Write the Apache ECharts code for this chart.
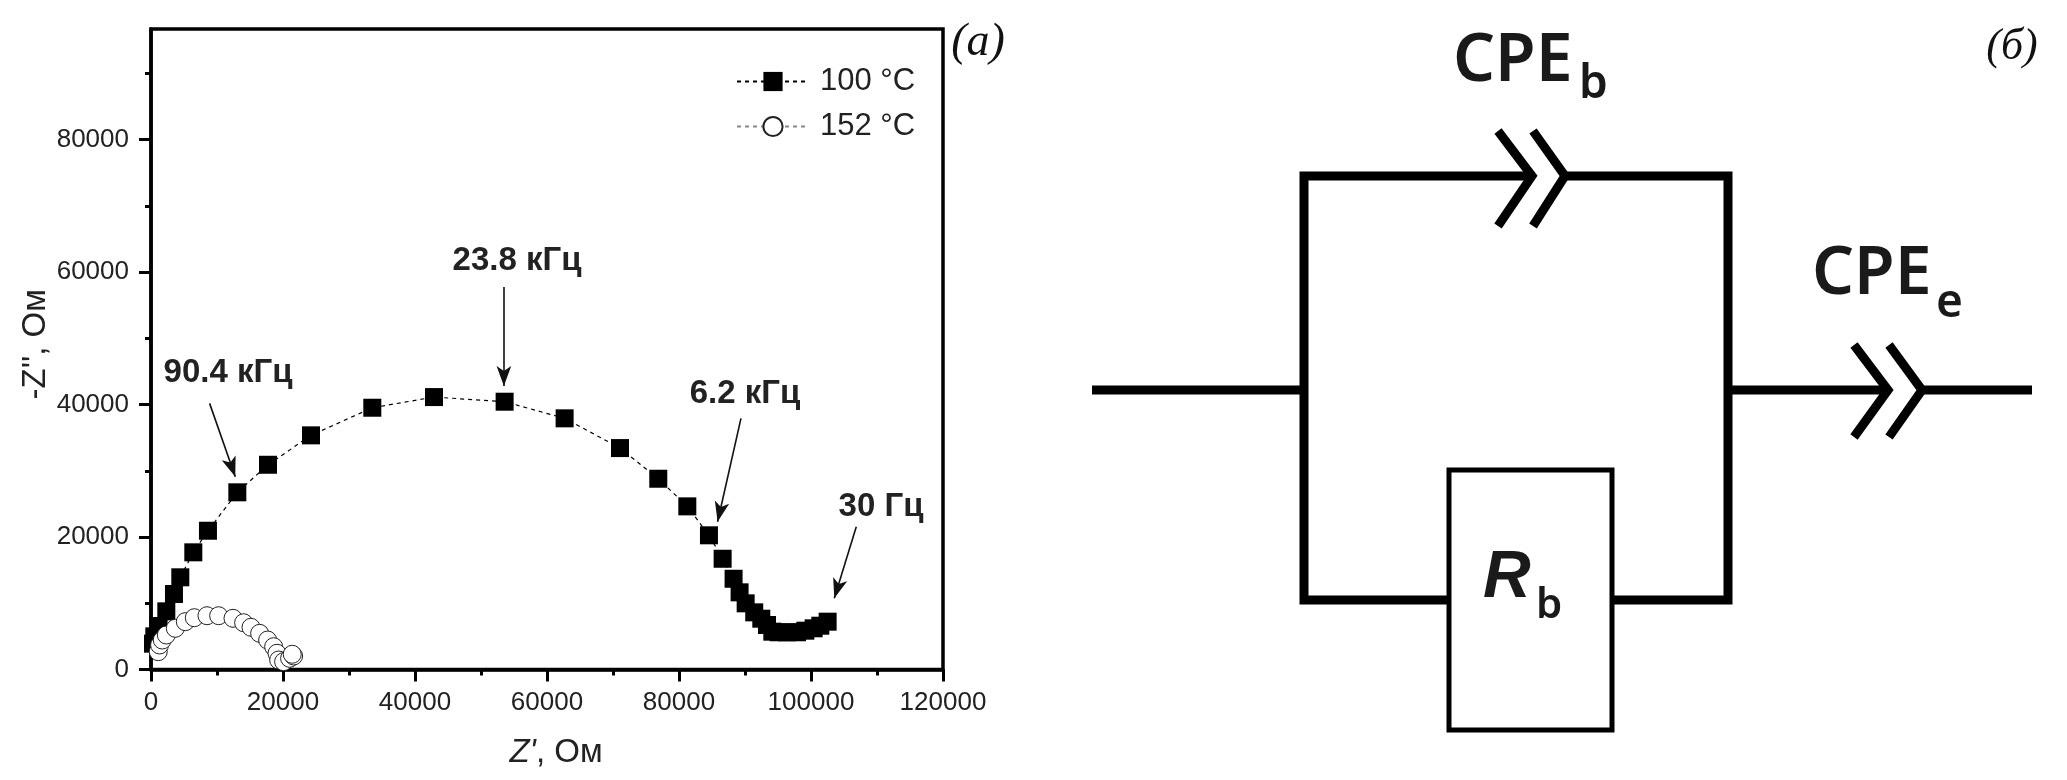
<!DOCTYPE html>
<html><head><meta charset="utf-8">
<style>html,body{margin:0;padding:0;background:#fff}#c{width:2067px;height:780px}</style>
<script src="https://cdn.jsdelivr.net/npm/echarts@6/dist/echarts.min.js"></script>
</head><body><div id="c"></div>
<script>
const s100x=[300,500,1150,2320,3480,4440,6410,8630,13080,17730,24240,33530,42880,53580,62670,71060,76860,81260,84540,86610,88270,89180,90100,91400,92470,93330,94140,95100,96360,97880,99140,100400,101410,102520];
const s100y=[3900,5000,6570,8780,11400,13920,17690,20950,26750,30910,35350,39520,41130,40430,37920,33430,28800,24630,20260,16720,13700,11650,9990,8630,7670,6720,5710,5620,5620,5620,5860,6220,6610,7220];
const s152x=[1100,1300,1710,2320,3680,5200,6560,8480,10250,12420,14030,15150,16460,17670,18580,19090,19340,20090,21000,21610,21400];
const s152y=[2690,3700,4450,5210,6220,7220,7820,8120,8120,7730,7060,6370,5460,4450,3440,2450,1430,1180,1690,2040,2300];
const xTicks=[0,20000,40000,60000,80000,100000,120000];
const yTicks=[0,20000,40000,60000,80000];
const seriesNames=['100 °C','152 °C'];
const arrowNotes=[
 {text:'90.4 кГц',from:[8880,40180],to:[12770,29100]},
 {text:'23.8 кГц',from:[53470,57740],to:[53470,42790]},
 {text:'6.2 кГц',from:[89390,37920],to:[85850,22310]},
 {text:'30 Гц',from:[106860,21560],to:[103530,10750]}
];
const zip=(a,b)=>a.map((v,i)=>[v,b[i]]);
const SANS='"Liberation Sans",Arial,sans-serif', SERIF='"Liberation Serif",serif', CPE='"Noto Sans",sans-serif';
const wire=(pts,w)=>({type:'polyline',silent:true,shape:{points:pts},style:{fill:null,stroke:'#000',lineWidth:w||8,lineJoin:'miter',lineCap:'butt'}});
const txt=(x,y,text,font,extra)=>({type:'text',silent:true,x,y,style:Object.assign({text,font,fill:'#111',textAlign:'center',textVerticalAlign:'middle'},extra||{})});
const left=(x,y,text,font)=>txt(x,y,text,font,{textAlign:'left',fill:'#1a1a1a'});
const noteLabelPos=[[228,373],[517,261],[745,394],[881,507]];
const notes=arrowNotes.map((n,i)=>txt(noteLabelPos[i][0],noteLabelPos[i][1],n.text,'bold 33px '+SANS,{fill:'#222'}));
const option={
 animation:false,backgroundColor:'#fff',
 grid:{left:151,top:29,width:792,height:640.5,outerBoundsMode:'none',containLabel:false,show:true,borderColor:'#000',borderWidth:3.5,backgroundColor:'transparent'},
 legend:{show:true,orient:'vertical',left:731,top:61,itemWidth:72,itemHeight:24,itemGap:14,selectedMode:false,
  textStyle:{fontFamily:SANS,fontSize:31,color:'#222',padding:[0,0,0,6]},data:seriesNames},
 xAxis:{type:'value',min:0,max:120000,interval:20000,
  name:"{i|Z'}, Ом",nameLocation:'middle',nameGap:67,
  nameTextStyle:{fontFamily:SANS,fontSize:33,color:'#222',padding:[0,0,0,18],rich:{i:{fontFamily:SANS,fontSize:33,fontStyle:'italic',color:'#222'}}},
  axisLine:{show:true,lineStyle:{color:'#000',width:3.5}},
  axisTick:{show:true,length:12,inside:false,lineStyle:{color:'#000',width:3}},
  minorTick:{show:true,splitNumber:2,length:6,lineStyle:{color:'#000',width:3}},
  axisLabel:{show:true,margin:20,fontFamily:SANS,fontSize:26,color:'#222',customValues:xTicks,formatter:v=>String(v),hideOverlap:false},
  splitLine:{show:false},minorSplitLine:{show:false}},
 yAxis:{type:'value',min:0,max:96700,interval:20000,
  name:"-Z'', Ом",nameLocation:'middle',nameGap:92,
  nameTextStyle:{fontFamily:SANS,fontSize:33,color:'#222',padding:[0,0,0,10]},
  axisLine:{show:true,lineStyle:{color:'#000',width:3.5}},
  axisTick:{show:true,length:12,lineStyle:{color:'#000',width:3},customValues:yTicks},
  minorTick:{show:true,splitNumber:2,length:6,lineStyle:{color:'#000',width:3}},
  axisLabel:{show:true,margin:22,fontFamily:SANS,fontSize:26,color:'#222',customValues:yTicks,formatter:v=>String(v)},
  splitLine:{show:false}},
 series:[
  {name:seriesNames[0],type:'line',data:zip(s100x,s100y),clip:false,symbol:'rect',symbolSize:18,showSymbol:true,showAllSymbol:true,
   itemStyle:{color:'#000',borderWidth:0},lineStyle:{color:'#000',width:1.2,type:[4,4]},z:3,
   markLine:{silent:true,animation:false,symbol:['none','arrow'],symbolSize:[11,20],precision:0,label:{show:false},
    lineStyle:{color:'#111',width:1.6,type:'solid'},
    data:arrowNotes.map(n=>[{coord:n.from},{coord:n.to}])}},
  {name:seriesNames[1],type:'line',data:zip(s152x,s152y),clip:false,symbol:'circle',symbolSize:18,showSymbol:true,showAllSymbol:true,
   itemStyle:{color:'#fff',borderColor:'#222',borderWidth:1},lineStyle:{color:'#888',width:1.2,type:[4,4]},z:4}
 ],
 graphic:[
  ...notes,
  txt(978,43,'(a)','italic 46px '+SERIF),
  txt(2012,47,'(б)','italic 44px '+SERIF),
  wire([[1092,390],[1304,390]],9),
  wire([[1532,176],[1304,176],[1304,600],[1449,600]],9),
  wire([[1565,176],[1728,176],[1728,600],[1613,600]],9),
  wire([[1728,390],[1888,390]],9),
  wire([[1922,390],[2032,390]],9),
  wire([[1498,131],[1532,176],[1498,226]],9),
  wire([[1533,131],[1565,176],[1533,226]],9),
  wire([[1854,345],[1888,390],[1854,437]],9),
  wire([[1889,345],[1922,390],[1889,437]],9),
  {type:'rect',silent:true,shape:{x:1449,y:470,width:163,height:260},style:{fill:'#fff',stroke:'#000',lineWidth:5}},
  left(1453,62,'CPE','600 66px '+CPE),
  left(1579,85,'b','600 46px '+CPE),
  left(1812,275,'CPE','600 66px '+CPE),
  left(1936,304,'e','600 46px '+CPE),
  left(1483,579,'R','italic bold 66px '+SANS),
  left(1536,606,'b','600 42px '+CPE)
 ]
};
const chart=echarts.init(document.getElementById('c'),null,{renderer:'canvas'});
chart.setOption(option);
</script></body></html>
